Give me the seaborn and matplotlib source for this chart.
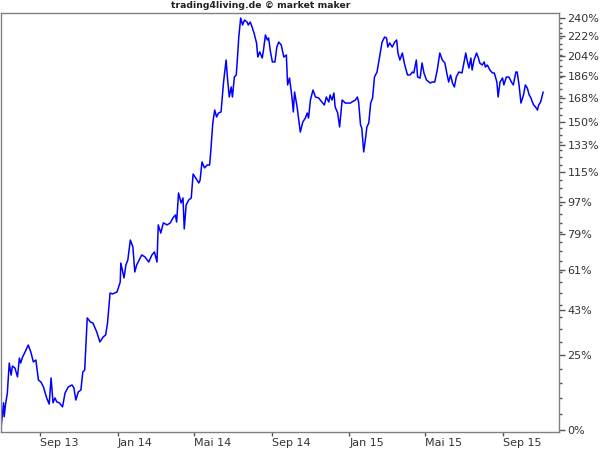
import numpy as np
import pandas as pd
import seaborn as sns
import matplotlib
matplotlib.use("Agg")
import matplotlib.pyplot as plt
from matplotlib.ticker import NullFormatter, FixedLocator, FixedFormatter

# --- data: performance since start (in %) ---
start_date = "2013-07-01"

days_since_start = [
    0, 4, 5, 7, 10, 13, 16, 18, 22, 26, 29, 31, 34, 38, 43, 47, 51, 55, 59, 63,
    67, 72, 76, 79, 82, 85, 88, 92, 97, 101, 106, 112, 115, 118, 122, 126, 129, 132, 136, 141,
    145, 151, 156, 161, 165, 168, 172, 176, 183, 188, 189, 194, 197, 200, 204, 208, 211, 214, 218, 222,
    227, 233, 238, 242, 246, 248, 252, 256, 262, 267, 271, 275, 277, 280, 284, 287, 289, 292, 296, 300,
    303, 306, 312, 314, 317, 321, 325, 329, 331, 334, 337, 340, 343, 347, 351, 355, 357, 360, 363, 365,
    368, 371, 373, 375, 378, 381, 384, 388, 390, 393, 396, 399, 403, 405, 408, 412, 414, 417, 420, 422,
    425, 428, 432, 435, 438, 442, 446, 450, 452, 455, 459, 461, 463, 467, 472, 476, 480, 483, 485, 488,
    492, 496, 501, 506, 510, 513, 517, 519, 522, 525, 527, 531, 534, 538, 543, 551, 556, 559, 562, 564,
    567, 569, 572, 575, 577, 580, 583, 586, 589, 593, 597, 601, 605, 608, 610, 613, 617, 621, 624, 626,
    629, 633, 636, 641, 645, 649, 651, 655, 657, 661, 664, 667, 671, 675, 677, 680, 684, 688, 692, 696,
    700, 703, 706, 709, 712, 715, 718, 722, 727, 733, 735, 738, 741, 743, 746, 750, 753, 755, 759, 762,
    764, 767, 771, 775, 778, 782, 784, 787, 791, 793, 797, 801, 805, 808, 812, 814, 817, 820, 824, 827,
    830, 833, 835, 840, 843, 846, 848, 851, 855,
]

performance_pct = [
    0.5, 8.4, 4.0, 7.7, 11.6, 22.0, 17.7, 20.9, 20.2, 17.1, 23.8, 22.0, 24.2, 26.1, 28.7, 26.1, 22.4, 23.1, 16.0, 15.3,
    13.6, 10.0, 8.0, 16.7, 8.4, 10.0, 8.7, 8.4, 7.1, 11.6, 13.6, 14.3, 13.3, 9.3, 12.0, 12.6, 18.8, 19.5, 39.5, 37.8,
    37.4, 33.8, 29.9, 31.8, 32.6, 37.4, 50.2, 49.8, 50.7, 55.2, 64.2, 57.1, 63.3, 65.7, 75.8, 72.2, 59.9, 63.3, 65.7, 68.2,
    67.2, 64.7, 68.2, 69.7, 64.7, 83.9, 79.5, 85.0, 83.9, 85.0, 87.7, 89.4, 85.5, 102.2, 96.3, 99.2, 81.7, 95.1, 98.0, 99.2,
    113.9, 112.0, 108.3, 110.1, 121.7, 117.8, 119.7, 119.7, 129.7, 148.9, 158.7, 153.4, 156.4, 157.2, 181.1, 200.1, 185.3, 168.9, 177.0, 168.9,
    185.3, 187.1, 202.8, 221.3, 240.0, 233.0, 238.0, 236.0, 233.0, 236.0, 231.0, 225.2, 215.7, 202.8, 207.4, 201.9, 209.2, 223.3, 218.5, 220.4,
    207.4, 198.4, 198.4, 211.9, 216.6, 213.8, 202.8, 204.6, 178.7, 184.5, 168.1, 157.2, 172.9, 161.0, 142.3, 149.7, 152.6, 156.4, 152.6, 166.5,
    174.5, 168.9, 168.1, 164.9, 162.6, 168.9, 164.9, 170.5, 166.5, 172.1, 161.0, 156.4, 146.0, 166.5, 164.1, 164.1, 165.7, 166.5, 168.9, 164.9,
    147.4, 145.2, 128.4, 138.1, 146.0, 148.9, 164.1, 168.1, 185.3, 189.6, 202.8, 216.6, 221.3, 220.4, 211.9, 215.7, 211.9, 216.6, 218.5, 206.4,
    200.1, 206.4, 197.5, 187.1, 187.1, 189.6, 188.8, 200.1, 185.3, 184.5, 197.5, 188.8, 182.8, 181.1, 180.3, 181.1, 181.1, 191.3, 206.4, 200.1,
    197.5, 188.8, 181.1, 187.1, 180.3, 177.0, 185.3, 189.6, 188.8, 206.4, 200.1, 193.1, 201.9, 191.3, 200.1, 206.4, 201.9, 197.5, 195.7, 198.4,
    193.9, 195.7, 191.3, 188.8, 188.8, 181.1, 168.9, 181.1, 184.5, 178.7, 185.3, 185.3, 181.1, 178.7, 189.6, 189.6, 178.7, 164.1, 170.5, 178.7,
    176.2, 170.5, 168.9, 162.6, 161.0, 158.7, 162.6, 164.9, 172.9,
]

# axis ticks
y_tick_pct = [0, 25, 43, 61, 79, 97, 115, 133, 150, 168, 186, 204, 222, 240]
y_minor_step_pct = 5
x_tick_dates = ["2013-09-01", "2014-01-01", "2014-05-01", "2014-09-01",
                "2015-01-01", "2015-05-01", "2015-09-01"]
x_tick_labels = ["Sep 13", "Jan 14", "Mai 14", "Sep 14", "Jan 15", "Mai 15", "Sep 15"]

# --- build frame ---
df = pd.DataFrame({
    "date": pd.Timestamp(start_date) + pd.to_timedelta(days_since_start, unit="D"),
    "growth": 1 + np.array(performance_pct) / 100.0,
})

sns.set_style("white")
plt.rcParams["font.family"] = ["DejaVu Sans"]

fig = plt.figure(figsize=(6, 4.5), dpi=100)
ax = fig.add_axes([1 / 600, 18 / 450, 558 / 600, 419 / 450])

sns.lineplot(data=df, x="date", y="growth", ax=ax, color="#0000ff", linewidth=1.1)

ax.set_yscale("log")
ax.set_ylim(0.994, 3.451)
ax.set_xlim(pd.Timestamp(start_date), pd.Timestamp("2015-11-28"))

# right-hand percent axis (log scale of 1 + performance)
ax.yaxis.set_ticks_position("right")
ax.yaxis.set_major_locator(FixedLocator([1 + p / 100 for p in y_tick_pct]))
ax.yaxis.set_major_formatter(FixedFormatter([f"{p}%" for p in y_tick_pct]))
minor_pct = [p for p in range(0, 241, y_minor_step_pct) if p not in y_tick_pct]
ax.yaxis.set_minor_locator(FixedLocator([1 + p / 100 for p in minor_pct]))
ax.yaxis.set_minor_formatter(NullFormatter())
ax.tick_params(axis="y", which="major", right=True, left=False, length=4, width=1,
               color="#555555", labelsize=8, labelcolor="#333333", pad=2)
ax.tick_params(axis="y", which="minor", right=True, left=False,
               length=2.5, width=1, color="#555555")

# date axis
ax.set_xticks(pd.to_datetime(x_tick_dates))
ax.set_xticklabels(x_tick_labels, ha="left")
ax.tick_params(axis="x", which="major", bottom=True, length=3, width=1, color="#555555",
               labelsize=8, labelcolor="#333333", pad=1)
ax.tick_params(axis="x", which="minor", bottom=False)

ax.set_xlabel("")
ax.set_ylabel("")
for side in ["left", "right", "top", "bottom"]:
    ax.spines[side].set_visible(True)
    ax.spines[side].set_color("#808080")
    ax.spines[side].set_linewidth(1.0)

fig.text(261 / 600, 1 - 6 / 450, "trading4living.de \u00a9 market maker",
         ha="center", va="center", fontsize=6.7, fontweight="bold", color="#222222")

fig.savefig("out.png", dpi=100)
plt.close(fig)
